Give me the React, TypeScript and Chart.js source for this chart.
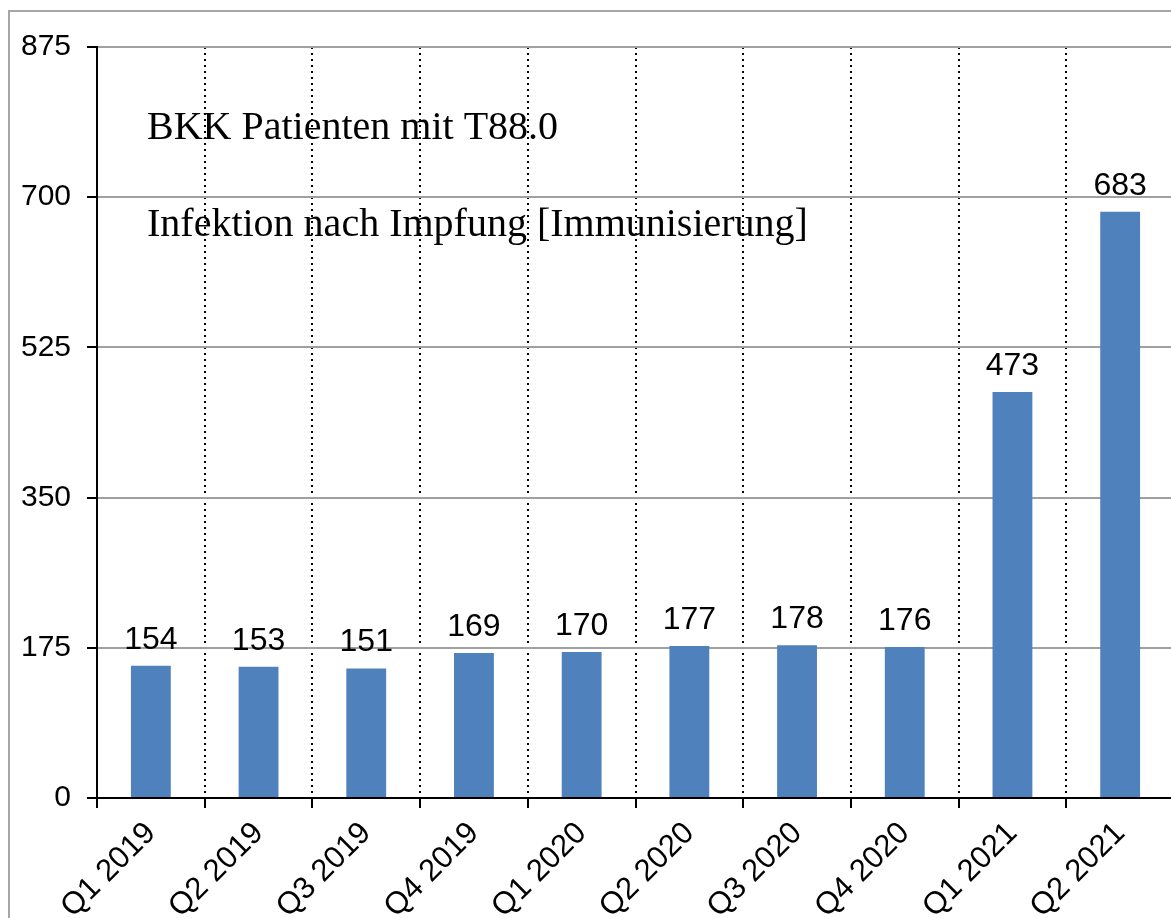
import React, { useEffect, useRef } from "react";
import { Chart, registerables } from "chart.js";

Chart.register(...registerables);

const categories = [
  "Q1 2019", "Q2 2019", "Q3 2019", "Q4 2019", "Q1 2020",
  "Q2 2020", "Q3 2020", "Q4 2020", "Q1 2021", "Q2 2021",
];
const patients = [154, 153, 151, 169, 170, 177, 178, 176, 473, 683];
const titleLines = ["BKK Patienten mit T88.0", "Infektion nach Impfung [Immunisierung]"];
const yMax = 875;
const yStep = 175;

const SANS = "'Liberation Sans', Arial, sans-serif";
const SERIF = "'Liberation Serif', 'Times New Roman', serif";

export default function App() {
  const ref = useRef<HTMLCanvasElement | null>(null);

  useEffect(() => {
    const canvas = ref.current;
    if (!canvas) return;

    const textPlugin = {
      id: "titleText",
      beforeDraw(chart: any) {
        const { ctx, chartArea } = chart;
        ctx.save();
        ctx.fillStyle = "#000";
        ctx.font = `40px ${SERIF}`;
        ctx.textAlign = "left";
        ctx.textBaseline = "alphabetic";
        ctx.fillText(titleLines[0], chartArea.left + 50, chartArea.top + 92);
        ctx.fillText(titleLines[1], chartArea.left + 50, chartArea.top + 189);
        ctx.restore();
      },
    };

    const valuePlugin = {
      id: "valueLabels",
      afterDatasetsDraw(chart: any) {
        const { ctx } = chart;
        const meta = chart.getDatasetMeta(0);
        ctx.save();
        ctx.fillStyle = "#000";
        ctx.font = `32px ${SANS}`;
        ctx.textAlign = "center";
        ctx.textBaseline = "alphabetic";
        meta.data.forEach((el: any, i: number) => {
          ctx.fillText(String(patients[i]), el.x, el.y - 17);
        });
        ctx.restore();
      },
    };

    const chart = new Chart(canvas, {
      type: "bar",
      data: {
        labels: categories,
        datasets: [
          {
            data: patients,
            backgroundColor: "#4F81BD",
            borderWidth: 0,
            categoryPercentage: 1,
            barPercentage: 0.37,
          },
        ],
      },
      options: {
        responsive: false,
        animation: false,
        devicePixelRatio: 1,
        layout: { padding: { left: 0, top: 47, right: 26, bottom: 0 } },
        plugins: {
          legend: { display: false },
          title: { display: false },
          tooltip: { enabled: false },
        },
        scales: {
          x: {
            offset: true,
            grid: {
              offset: true,
              color: "#000",
              lineWidth: 2,
              tickLength: 10,
              tickColor: "#000",
              tickWidth: 2,
            },
            border: { display: true, color: "#000", width: 2, dash: [2, 4] },
            ticks: {
              color: "#000",
              font: { family: SANS, size: 31 },
              minRotation: 45,
              maxRotation: 45,
              padding: 7,
              autoSkip: false,
            },
            afterFit(scale: any) {
              scale.height = 120;
            },
          },
          y: {
            min: 0,
            max: yMax,
            grid: {
              color: "#A0A0A0",
              lineWidth: 2,
              tickLength: 10,
              tickColor: "#000",
              tickWidth: 2,
            },
            border: { display: true, color: "#000", width: 2 },
            ticks: {
              stepSize: yStep,
              color: "#000",
              font: { family: SANS, size: 30 },
              padding: 16,
            },
            afterFit(scale: any) {
              scale.width = 97;
            },
          },
        },
      },
      plugins: [textPlugin, valuePlugin],
    });

    return () => chart.destroy();
  }, []);

  return (
    <div
      style={{
        position: "fixed",
        left: 0,
        top: 0,
        width: 1171,
        height: 918,
        overflow: "hidden",
        background: "#fff",
      }}
    >
      <div
        style={{
          position: "absolute",
          left: 8,
          top: 10,
          width: 1300,
          height: 1000,
          border: "2px solid #A6A6A6",
          boxSizing: "border-box",
        }}
      />
      <canvas
        ref={ref}
        width={1200}
        height={918}
        style={{ position: "absolute", left: 0, top: 0, width: 1200, height: 918 }}
      />
    </div>
  );
}
